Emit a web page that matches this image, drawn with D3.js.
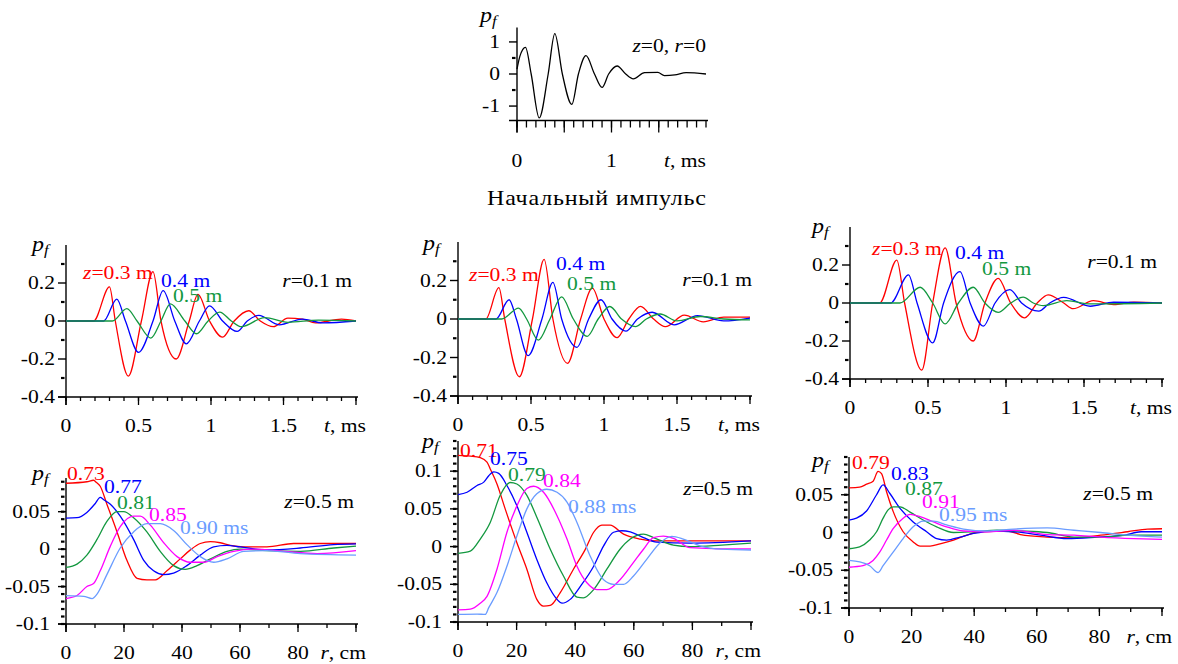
<!DOCTYPE html>
<html>
<head>
<meta charset="utf-8">
<script src="https://cdn.jsdelivr.net/npm/d3@7"></script>
<style>
  body { margin: 0; background: #fff; }
</style>
</head>
<body>
<div id="chart"></div>
<script>
// ---- data: initial pulse, z=0, r=0  [t ms, p]
var impulse = [[0,0.15],[0.03,0.55],[0.09,0.83],[0.15,0],[0.235,-1.37],[0.33,0],[0.40,1.26],[0.48,0],[0.58,-0.95],[0.65,0],[0.73,0.57],[0.82,0],[0.90,-0.42],[0.97,0],[1.06,0.25],[1.15,0],[1.23,-0.15],[1.35,0.04],[1.49,0.05],[1.56,-0.05],[1.67,-0.03],[1.79,0.04],[2.0,0]];

// ---- r = 0.1 m, time signals, three panels  [t ms, p]
var tA_z03 = [[0,0],[0.19,0],[0.30,0.18],[0.34,0],[0.43,-0.29],[0.52,0],[0.60,0.26],[0.655,0],[0.76,-0.20],[0.85,0],[0.91,0.14],[0.99,0],[1.08,-0.085],[1.16,0],[1.26,0.054],[1.34,0],[1.43,-0.03],[1.53,0.015],[1.63,0.01],[1.72,-0.01],[1.9,0.01],[2.0,0]];
var tA_z04 = [[0,0],[0.26,0],[0.35,0.115],[0.41,0],[0.50,-0.165],[0.60,0],[0.67,0.16],[0.75,0],[0.83,-0.12],[0.92,0],[0.99,0.08],[1.08,0],[1.18,-0.055],[1.25,0],[1.33,0.03],[1.47,-0.02],[1.63,0.01],[1.77,-0.01],[2.0,0]];
var tA_z05 = [[0,0],[0.32,0],[0.42,0.065],[0.49,0],[0.585,-0.09],[0.655,0],[0.72,0.09],[0.82,0],[0.90,-0.067],[0.98,0],[1.06,0.047],[1.14,0],[1.21,-0.03],[1.37,0.018],[1.53,-0.007],[1.74,0.005],[2.0,0]];

var tB_z03 = [[0,0],[0.19,0],[0.28,0.163],[0.32,0],[0.42,-0.30],[0.51,0],[0.59,0.31],[0.65,0],[0.75,-0.23],[0.84,0],[0.92,0.16],[1.0,0],[1.09,-0.097],[1.17,0],[1.25,0.066],[1.34,0],[1.42,-0.04],[1.55,0.02],[1.68,-0.015],[1.82,0.01],[2.0,0.01]];
var tB_z04 = [[0,0],[0.26,0],[0.35,0.10],[0.40,0],[0.48,-0.19],[0.575,0],[0.65,0.19],[0.71,0],[0.815,-0.147],[0.895,0],[0.98,0.10],[1.055,0],[1.15,-0.063],[1.23,0],[1.33,0.035],[1.48,-0.03],[1.64,0.018],[1.82,-0.01],[2.0,0.005]];
var tB_z05 = [[0,0],[0.30,0],[0.415,0.057],[0.47,0],[0.55,-0.11],[0.63,0],[0.71,0.115],[0.79,0],[0.885,-0.09],[0.96,0],[1.04,0.065],[1.12,0],[1.215,-0.04],[1.29,0],[1.385,0.026],[1.5,-0.01],[1.66,0.013],[1.82,0],[2.0,-0.005]];

var tC_z03 = [[0,0],[0.19,0],[0.30,0.226],[0.35,0],[0.46,-0.353],[0.53,0],[0.61,0.29],[0.68,0],[0.79,-0.20],[0.865,0],[0.95,0.13],[1.03,0],[1.12,-0.078],[1.20,0],[1.27,0.043],[1.37,0],[1.43,-0.03],[1.56,0.012],[1.69,-0.008],[1.82,0.005],[2.0,0]];
var tC_z04 = [[0,0],[0.26,0],[0.375,0.148],[0.43,0],[0.53,-0.21],[0.60,0],[0.705,0.165],[0.77,0],[0.855,-0.122],[0.93,0],[1.025,0.07],[1.10,0],[1.21,-0.043],[1.28,0],[1.37,0.03],[1.54,-0.017],[1.69,0.004],[2.0,0]];
var tC_z05 = [[0,0],[0.32,0],[0.45,0.083],[0.53,0],[0.61,-0.11],[0.695,0],[0.79,0.083],[0.865,0],[0.95,-0.049],[1.03,0],[1.11,0.031],[1.175,0],[1.24,-0.014],[1.39,0.012],[1.54,-0.005],[2.0,0]];

// ---- z = 0.5 m, radial profiles at fixed times  [r cm, p]
var rA_073 = [[0,0.088],[7.2,0.09],[9.5,0.092],[10.5,0.089],[11.8,0.084],[14.1,0.06],[17.6,0.023],[21,-0.015],[24.5,-0.039],[27.9,-0.041],[30.8,-0.041],[34.8,-0.029],[39.4,-0.013],[42.9,-0.001],[46.3,0.0075],[49.8,0.01],[53.2,0.0085],[56.7,0.005],[61.3,0.003],[69.3,0.003],[78.5,0.0075],[100,0.0075]];
var rA_077 = [[0,0.0415],[3.8,0.042],[7.2,0.049],[10.1,0.061],[11.8,0.069],[13,0.066],[15.3,0.06],[18.7,0.044],[23.3,0.013],[26.8,-0.015],[30.2,-0.029],[33.7,-0.034],[37.1,-0.032],[41.7,-0.022],[46.3,-0.008],[50.9,0.003],[55.5,0.005],[60.1,0.003],[69.3,-0.001],[80.8,0.0015],[92.3,0.006],[100,0.007]];
var rA_081 = [[0,-0.0245],[3.8,-0.02],[7.2,-0.008],[10.7,0.013],[14.1,0.037],[17.6,0.05],[19.9,0.05],[23.3,0.042],[27.9,0.023],[32.5,-0.003],[37.1,-0.022],[41.1,-0.027],[45.2,-0.022],[49.8,-0.013],[55.5,-0.003],[60.1,0],[69.3,-0.002],[80.8,-0.003],[92.3,0.0015],[100,0.004]];
var rA_085 = [[0,-0.066],[3.8,-0.062],[7.2,-0.05],[9.5,-0.046],[11.8,-0.029],[15.3,0.004],[18.7,0.03],[23.3,0.044],[25.6,0.044],[29.1,0.032],[33.7,0.0085],[38.3,-0.01],[42.9,-0.0175],[47.5,-0.0175],[52.1,-0.01],[57.8,-0.003],[64.7,0],[75.1,-0.003],[86.6,-0.006],[100,-0.002]];
var rA_090 = [[0,-0.062],[6.1,-0.063],[9,-0.066],[10.7,-0.06],[14.1,-0.034],[18.7,0.0015],[23.3,0.023],[27.9,0.034],[32.5,0.034],[37.1,0.025],[41.7,0.006],[46.3,-0.01],[50.9,-0.0175],[55.5,-0.013],[61.3,-0.003],[69.3,-0.002],[80.8,-0.006],[100,-0.008]];

var rB_071 = [[0,0.121],[4.2,0.12],[7.6,0.118],[9.9,0.112],[11,0.103],[13.3,0.083],[16.1,0.05],[20.1,0.005],[23.5,-0.03],[26.9,-0.07],[29.2,-0.079],[31.5,-0.078],[34.9,-0.061],[39.4,-0.03],[43.4,-0.004],[46.3,0.019],[49.1,0.0285],[51.9,0.0285],[56.5,0.0165],[62.2,0.01],[67.8,0.0075],[79.2,0.0075],[100,0.0075]];
var rB_075 = [[0,0.069],[3.1,0.072],[6.5,0.081],[8.8,0.0855],[10.5,0.094],[12.2,0.099],[13.9,0.097],[16.7,0.081],[20.1,0.054],[23.5,0.019],[26.9,-0.017],[30.3,-0.048],[33.8,-0.07],[35.5,-0.075],[38.3,-0.07],[41.7,-0.053],[46.3,-0.026],[49.7,0.001],[53.1,0.019],[55.9,0.021],[58.8,0.0195],[63.3,0.012],[67.8,0.006],[79.2,0.0045],[100,0.0075]];
var rB_079 = [[0,-0.009],[4.2,-0.006],[7.6,0.01],[11,0.032],[14.4,0.068],[17.8,0.085],[20.1,0.083],[23.5,0.068],[26.9,0.039],[31.5,-0.0035],[36,-0.039],[40.6,-0.067],[42.8,-0.068],[46.3,-0.057],[50.8,-0.03],[55.3,-0.0035],[58.8,0.01],[63.3,0.0165],[66.7,0.012],[73.5,0.002],[79.2,0],[90,0.002],[100,0.0045]];
var rB_084 = [[0,-0.084],[4.2,-0.083],[7.6,-0.075],[9.9,-0.066],[13.3,-0.03],[16.7,0.019],[20.1,0.054],[23.5,0.077],[25.8,0.08],[29.2,0.072],[33.8,0.041],[37.2,0.01],[40.6,-0.026],[44,-0.048],[47.4,-0.057],[50.8,-0.057],[55.3,-0.044],[59.9,-0.021],[63.3,-0.0035],[66.7,0.012],[70.1,0.014],[73.5,0.011],[79.2,-0.0015],[90,-0.003],[100,-0.003]];
var rB_088 = [[0,-0.09],[6.5,-0.0895],[9.3,-0.09],[10.5,-0.081],[13.3,-0.061],[16.7,-0.026],[20.1,0.014],[23.5,0.05],[26.9,0.07],[30.3,0.076],[33.8,0.072],[37.2,0.059],[40.6,0.032],[45.1,-0.0125],[49.7,-0.044],[53.1,-0.05],[56.5,-0.05],[59.9,-0.039],[64.4,-0.017],[69,0.005],[73,0.0135],[76.9,0.01],[82.6,0.001],[90,-0.0035],[100,-0.0045]];

var rC_079 = [[0,0.059],[3.4,0.06],[5.6,0.064],[7.7,0.068],[9.3,0.081],[10.4,0.078],[12,0.054],[14.1,0.028],[17.3,0.001],[20.5,-0.0125],[22.7,-0.018],[25.9,-0.018],[29.1,-0.015],[33.4,-0.01],[37.6,-0.0035],[41.9,0.001],[50.5,0.002],[54.8,-0.0027],[63.3,-0.006],[71.9,-0.007],[80.4,-0.0035],[89,0.001],[95.4,0.0045],[100,0.005]];
var rC_083 = [[0,0.0165],[2.4,0.019],[5.6,0.0285],[8.8,0.05],[10.9,0.063],[13,0.052],[16.3,0.032],[20.5,0.014],[24.8,0.001],[28,-0.008],[31.2,-0.01],[35.5,-0.006],[39.8,-0.0013],[46.2,0.002],[52.6,0.001],[61.2,-0.0035],[69.7,-0.008],[79.4,-0.006],[87.9,-0.0035],[93.3,0.001],[100,0.001]];
var rC_087 = [[0,-0.0215],[3.4,-0.019],[6.6,-0.01],[8.8,0.001],[10.9,0.019],[12.5,0.03],[14.1,0.034],[16.3,0.034],[19.5,0.027],[23.7,0.0165],[28,0.0075],[33.4,0],[39.8,0.001],[47.3,0.003],[54.8,0.002],[63.3,0],[71.9,-0.006],[80.4,-0.006],[90,-0.0035],[100,-0.0035]];
var rC_091 = [[0,-0.046],[4.5,-0.044],[7.7,-0.037],[9.8,-0.026],[12,-0.01],[14.1,0.005],[17.3,0.019],[19.5,0.024],[22.7,0.021],[27,0.014],[31.2,0.0075],[36.6,0.002],[44.1,0.001],[52.6,0.003],[63.3,-0.0027],[71.9,-0.0035],[80.4,-0.006],[91,-0.008],[100,-0.009]];
var rC_095 = [[0,-0.037],[3.4,-0.039],[6.6,-0.044],[9.3,-0.053],[10.9,-0.044],[14.1,-0.026],[17.3,-0.008],[20.5,0.0075],[23.7,0.015],[27,0.015],[31.2,0.01],[36.6,0.0045],[44.1,0.002],[52.6,0.0045],[63.3,0.006],[71.9,0.003],[80.4,0],[89,-0.0035],[100,-0.006]];

// ---- tick labels
var tTicksTop = [0, 1];
var tTicks = [0, 0.5, 1, 1.5];
var rTicks = [0, 20, 40, 60, 80];
var pTicksTop = [-1, 0, 1];
var pTicksMid = [-0.4, -0.2, 0, 0.2];
var pTicksBot = [-0.1, -0.05, 0, 0.05];
var pTicksBot2 = [-0.1, -0.05, 0, 0.05, 0.1];

// ---- curve labels
var zLabels = ["0.3 m", "0.4 m", "0.5 m"];
var timeLabelsA = ["0.73", "0.77", "0.81", "0.85", "0.90 ms"];
var timeLabelsB = ["0.71", "0.75", "0.79", "0.84", "0.88 ms"];
var timeLabelsC = ["0.79", "0.83", "0.87", "0.91", "0.95 ms"];

var colors3 = ["#ff0000", "#0000ff", "#13983f"];
var colors5 = ["#ff0000", "#0000ff", "#13983f", "#ff00ff", "#6a9cff"];

var W = 1178, H = 664;
var SERIF = "Liberation Serif";
var FS = 18, SX = 1.2;   // the source figure is stretched horizontally
var svg = d3.select("#chart").append("svg")
            .attr("width", W)
            .attr("height", H)
            .attr("font-family", SERIF)
            .style("background", "#fff");

var fmt = function(d) { return String(+d.toFixed(3)); };

function tr(x, y) { return "translate(" + x + "," + y + ") scale(" + SX + ",1)"; }

function pf(x, y) {
  var t = svg.append("text").attr("transform", tr(x, y)).attr("font-style", "italic");
  t.append("tspan").attr("font-size", 20).text("p");
  t.append("tspan").attr("font-size", 14).attr("dy", 4).text("f");
}

function label(x, y, anchor, color, parts) {
  var t = svg.append("text").attr("transform", tr(x, y))
             .attr("text-anchor", anchor).attr("fill", color)
             .attr("font-size", FS);
  parts.forEach(function(p) {
    var s = t.append("tspan").text(p[0]);
    if (p[1]) s.attr("font-style", "italic");
  });
  return t;
}

function drawPanel(p) {
  var x = d3.scaleLinear().domain(p.xDom).range(p.x);
  var y = d3.scaleLinear().domain(p.yDom).range(p.y);
  var g = svg.append("g");
  var y0 = p.y[0], x0 = p.x[0];

  // axis lines
  g.append("line").attr("x1", x0 - 8).attr("x2", p.x[1] + 2).attr("y1", y0).attr("y2", y0)
    .attr("stroke", "#000").attr("stroke-width", 1.4);
  g.append("line").attr("x1", x0).attr("x2", x0).attr("y1", y0 + p.xMajLen).attr("y2", p.y[1])
    .attr("stroke", "#000").attr("stroke-width", 1.4);

  // x ticks
  g.selectAll(".xmin").data(p.xMinor).enter().append("line")
    .attr("x1", function(d) { return x(d); }).attr("x2", function(d) { return x(d); })
    .attr("y1", y0).attr("y2", y0 + p.xMinLen)
    .attr("stroke", "#000").attr("stroke-width", 1.3);
  g.selectAll(".xmaj").data(p.xMajor).enter().append("line")
    .attr("x1", function(d) { return x(d); }).attr("x2", function(d) { return x(d); })
    .attr("y1", y0).attr("y2", y0 + p.xMajLen)
    .attr("stroke", "#000").attr("stroke-width", 1.3);
  g.selectAll(".xlab").data(p.xLabels).enter().append("text")
    .attr("transform", function(d) { return tr(x(d), y0 + p.xLabOff); })
    .attr("text-anchor", "middle").attr("font-size", FS)
    .text(fmt);

  // y ticks
  g.selectAll(".ymin").data(p.yMinor).enter().append("line")
    .attr("x1", x0 - 5).attr("x2", x0 - 1.5)
    .attr("y1", function(d) { return y(d); }).attr("y2", function(d) { return y(d); })
    .attr("stroke", "#000").attr("stroke-width", 2.2);
  g.selectAll(".ymaj").data(p.yLabels).enter().append("line")
    .attr("x1", x0 - 8).attr("x2", x0)
    .attr("y1", function(d) { return y(d); }).attr("y2", function(d) { return y(d); })
    .attr("stroke", "#000").attr("stroke-width", 1.4);
  g.selectAll(".ylab").data(p.yLabels).enter().append("text")
    .attr("transform", function(d) { return tr(x0 - 8 - p.yPad, y(d) + 6); })
    .attr("text-anchor", "end").attr("font-size", FS)
    .text(fmt);

  // series
  var line = d3.line()
    .x(function(d) { return x(d[0]); })
    .y(function(d) { return y(d[1]); })
    .curve(d3.curveMonotoneX);
  p.series.forEach(function(s, i) {
    g.append("path").datum(s)
      .attr("d", line)
      .attr("fill", "none")
      .attr("stroke", p.colors[i])
      .attr("stroke-width", 1.3)
      .attr("stroke-linejoin", "round");
  });

  // axis name
  label(p.x[1] + p.nameDx, y0 + p.xLabOff, "end", "#000", p.xName);
  return { x: x, y: y };
}

var tMinor = d3.range(0, 2.001, 0.1).map(function(d) { return +d.toFixed(2); });
var rMinor = d3.range(0, 100.1, 10);

// ---- top panel
drawPanel({
  x: [517, 706], y: [120.5, 27.5], xDom: [0, 2], yDom: [-1.45, 1.45],
  xMinor: tMinor, xMajor: [0, 0.5, 1, 1.5], xLabels: tTicksTop,
  xMinLen: 7, xMajLen: 12, xLabOff: 46,
  yMinor: [-0.5, 0.5], yLabels: pTicksTop, yPad: 9,
  series: [impulse], colors: ["#000"],
  xName: [["t", true], [", ms", false]], nameDx: 0
});
pf(480, 22);
label(706, 52, "end", "#000", [["z", true], ["=0, ", false], ["r", true], ["=0", false]]);
svg.append("text").attr("transform", tr(487, 205))
   .attr("font-size", 20).attr("textLength", 219 / SX).attr("lengthAdjust", "spacing")
   .text("Начальный импульс");

// ---- middle row: r = 0.1 m
var mid = [
  { x: [66, 356], y: [397, 245], series: [tA_z03, tA_z04, tA_z05], pfPos: [32, 251],
    lab: [[83, 279], [161, 287], [173, 302]], rPos: [352, 287] },
  { x: [458, 750], y: [396, 242], series: [tB_z03, tB_z04, tB_z05], pfPos: [423, 250],
    lab: [[469, 281], [556, 270], [567, 290]], rPos: [752, 286] },
  { x: [850, 1162], y: [379, 227], series: [tC_z03, tC_z04, tC_z05], pfPos: [812, 233],
    lab: [[872, 255], [955, 259], [982, 275]], rPos: [1157, 268] }
];
mid.forEach(function(m) {
  drawPanel({
    x: m.x, y: m.y, xDom: [0, 2], yDom: [-0.4, 0.4],
    xMinor: tMinor, xMajor: tTicks.concat([2]), xLabels: tTicks,
    xMinLen: 4, xMajLen: 8, xLabOff: 35,
    yMinor: d3.range(-0.3, 0.41, 0.2).map(function(d) { return +d.toFixed(2); }), yLabels: pTicksMid, yPad: 3,
    series: m.series, colors: colors3,
    xName: [["t", true], [", ms", false]], nameDx: 10
  });
  pf(m.pfPos[0], m.pfPos[1]);
  label(m.lab[0][0], m.lab[0][1], "start", colors3[0], [["z", true], ["=" + zLabels[0], false]]);
  label(m.lab[1][0], m.lab[1][1], "start", colors3[1], [[zLabels[1], false]]);
  label(m.lab[2][0], m.lab[2][1], "start", colors3[2], [[zLabels[2], false]]);
  label(m.rPos[0], m.rPos[1], "end", "#000", [["r", true], ["=0.1 m", false]]);
});

// ---- bottom row: z = 0.5 m
var bot = [
  { x: [66, 356], y: [624, 478], yDom: [-0.1, 0.095], yLabels: pTicksBot,
    series: [rA_073, rA_077, rA_081, rA_085, rA_090], names: timeLabelsA, pfPos: [32, 480],
    lab: [[67, 480], [104, 493], [117, 509], [149, 521], [180, 534]], zPos: [354, 508] },
  { x: [458, 751], y: [622, 441], yDom: [-0.1, 0.14], yLabels: pTicksBot2,
    series: [rB_071, rB_075, rB_079, rB_084, rB_088], names: timeLabelsB, pfPos: [422, 448],
    lab: [[460, 457], [490, 465], [508, 481], [543, 487], [568, 513]], zPos: [753, 495] },
  { x: [849, 1162], y: [608, 457], yDom: [-0.1, 0.1], yLabels: pTicksBot,
    series: [rC_079, rC_083, rC_087, rC_091, rC_095], names: timeLabelsC, pfPos: [812, 467],
    lab: [[852, 469], [891, 480], [905, 495], [922, 508], [939, 521]], zPos: [1153, 500] }
];
bot.forEach(function(b) {
  var minor = d3.range(-10, 15, 1).map(function(d) { return d / 100; })
    .filter(function(d) { return d >= b.yDom[0] - 1e-9 && d <= b.yDom[1] + 1e-9; });
  drawPanel({
    x: b.x, y: b.y, xDom: [0, 100], yDom: b.yDom,
    xMinor: rMinor, xMajor: rTicks.concat([100]), xLabels: rTicks,
    xMinLen: 4, xMajLen: 8, xLabOff: 35,
    yMinor: minor, yLabels: b.yLabels, yPad: 8,
    series: b.series, colors: colors5,
    xName: [["r", true], [", cm", false]], nameDx: 10
  });
  pf(b.pfPos[0], b.pfPos[1]);
  b.names.forEach(function(n, i) {
    label(b.lab[i][0], b.lab[i][1], "start", colors5[i], [[n, false]]);
  });
  label(b.zPos[0], b.zPos[1], "end", "#000", [["z", true], ["=0.5 m", false]]);
});
</script>
</body>
</html>
